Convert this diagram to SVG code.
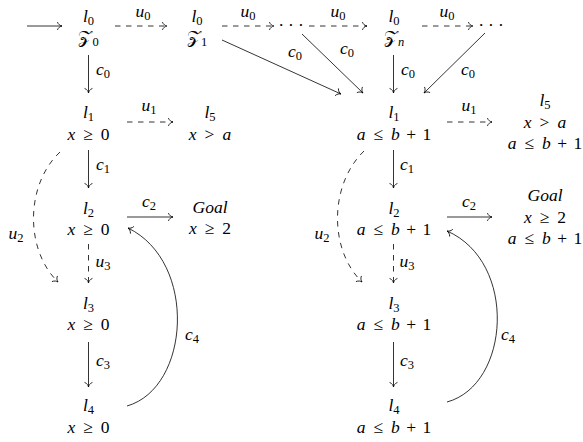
<svg xmlns="http://www.w3.org/2000/svg" width="583" height="442" viewBox="0 0 583 442">
<defs>
<style>
text{font-family:'Liberation Serif','Times New Roman',serif;font-size:17.5px;fill:#000;text-anchor:middle}
.i{font-style:italic}
.s{font-size:12.5px}
.e{fill:none;stroke:#000;stroke-width:0.8}
.d{stroke-dasharray:5.5 5.5}
</style>
<marker id="ah" viewBox="-6 -5 8 10" refX="0" refY="0" markerWidth="8" markerHeight="10" orient="auto" markerUnits="userSpaceOnUse">
<path d="M-4.5,-3.6 C-3.8,-1.5 -1.5,-0.3 0,0 C-1.5,0.3 -3.8,1.5 -4.5,3.6" fill="none" stroke="#000" stroke-width="0.8" stroke-linecap="round"/>
</marker>
</defs>
<rect width="583" height="442" fill="#fff"/>

<g id="connectors">
<path class="e" d="M27,26 H62" marker-end="url(#ah)"/>
<path class="e d" d="M115,26 H167" marker-end="url(#ah)"/>
<path class="e d" d="M222,26 H274" marker-end="url(#ah)"/>
<path class="e d" d="M309,26 H367" marker-end="url(#ah)"/>
<path class="e d" d="M422,26 H473" marker-end="url(#ah)"/>
<path class="e" d="M222,40 L341,94" marker-end="url(#ah)"/>
<path class="e" d="M302,34 L363,93" marker-end="url(#ah)"/>
<path class="e" d="M485,33 L424,93" marker-end="url(#ah)"/>
<path class="e" d="M88.5,55 V93" marker-end="url(#ah)"/>
<path class="e" d="M88.5,150 V188" marker-end="url(#ah)"/>
<path class="e d" d="M88.5,244 V283" marker-end="url(#ah)"/>
<path class="e" d="M88.5,342 V387" marker-end="url(#ah)"/>
<path class="e d" d="M127,122 H173" marker-end="url(#ah)"/>
<path class="e" d="M127,217 H173" marker-end="url(#ah)"/>
<path class="e d" d="M60,152 C25,185 25,250 58,282" marker-end="url(#ah)"/>
<path class="e" d="M127,406 C190,388 198,262 128,228" marker-end="url(#ah)"/>
<path class="e" d="M393.5,55 V93" marker-end="url(#ah)"/>
<path class="e" d="M393.5,150 V188" marker-end="url(#ah)"/>
<path class="e d" d="M393.5,244 V283" marker-end="url(#ah)"/>
<path class="e" d="M393.5,342 V387" marker-end="url(#ah)"/>
<path class="e d" d="M447,122 H492" marker-end="url(#ah)"/>
<path class="e" d="M447,217 H492" marker-end="url(#ah)"/>
<path class="e d" d="M364,151 C329,185 329,250 362,282" marker-end="url(#ah)"/>
<path class="e" d="M447,402 C510,385 518,262 447,231" marker-end="url(#ah)"/>
</g>

<g id="edge-labels">
<text x="143" y="17"><tspan class="i">u</tspan><tspan class="s" dy="3">0</tspan></text>
<text x="248" y="17"><tspan class="i">u</tspan><tspan class="s" dy="3">0</tspan></text>
<text x="338" y="17"><tspan class="i">u</tspan><tspan class="s" dy="3">0</tspan></text>
<text x="447" y="17"><tspan class="i">u</tspan><tspan class="s" dy="3">0</tspan></text>
<text x="295" y="57"><tspan class="i">c</tspan><tspan class="s" dy="3">0</tspan></text>
<text x="347" y="54"><tspan class="i">c</tspan><tspan class="s" dy="3">0</tspan></text>
<text x="468" y="75"><tspan class="i">c</tspan><tspan class="s" dy="3">0</tspan></text>
<text x="103" y="75"><tspan class="i">c</tspan><tspan class="s" dy="3">0</tspan></text>
<text x="103" y="170"><tspan class="i">c</tspan><tspan class="s" dy="3">1</tspan></text>
<text x="103" y="267"><tspan class="i">u</tspan><tspan class="s" dy="3">3</tspan></text>
<text x="103" y="366"><tspan class="i">c</tspan><tspan class="s" dy="3">3</tspan></text>
<text x="149" y="111"><tspan class="i">u</tspan><tspan class="s" dy="3">1</tspan></text>
<text x="149" y="207"><tspan class="i">c</tspan><tspan class="s" dy="3">2</tspan></text>
<text x="16" y="239"><tspan class="i">u</tspan><tspan class="s" dy="3">2</tspan></text>
<text x="192" y="340"><tspan class="i">c</tspan><tspan class="s" dy="3">4</tspan></text>
<text x="408" y="75"><tspan class="i">c</tspan><tspan class="s" dy="3">0</tspan></text>
<text x="407" y="170"><tspan class="i">c</tspan><tspan class="s" dy="3">1</tspan></text>
<text x="407" y="267"><tspan class="i">u</tspan><tspan class="s" dy="3">3</tspan></text>
<text x="407" y="366"><tspan class="i">c</tspan><tspan class="s" dy="3">3</tspan></text>
<text x="469" y="111"><tspan class="i">u</tspan><tspan class="s" dy="3">1</tspan></text>
<text x="469" y="207"><tspan class="i">c</tspan><tspan class="s" dy="3">2</tspan></text>
<text x="322" y="239"><tspan class="i">u</tspan><tspan class="s" dy="3">2</tspan></text>
<text x="508" y="340"><tspan class="i">c</tspan><tspan class="s" dy="3">4</tspan></text>
</g>

<g id="dots1"><text x="293" y="31" letter-spacing="4">···</text></g>
<g id="dots2"><text x="493" y="31" letter-spacing="4">···</text></g>

<g id="n-z0">
<text x="88.5" y="21.5"><tspan class="i">l</tspan><tspan class="s" dy="3">0</tspan></text>
<text x="88.5" y="43"><tspan>𝒵</tspan><tspan class="s" dy="3">0</tspan></text>
</g>
<g id="n-z1">
<text x="197" y="21.5"><tspan class="i">l</tspan><tspan class="s" dy="3">0</tspan></text>
<text x="197" y="43"><tspan>𝒵</tspan><tspan class="s" dy="3">1</tspan></text>
</g>
<g id="n-zn">
<text x="394" y="21.5"><tspan class="i">l</tspan><tspan class="s" dy="3">0</tspan></text>
<text x="394" y="43"><tspan>𝒵</tspan><tspan class="s i" dy="3">n</tspan></text>
</g>

<g id="n-l1">
<text x="88.5" y="118"><tspan class="i">l</tspan><tspan class="s" dy="3">1</tspan></text>
<text x="88.5" y="139.5"><tspan class="i">x</tspan><tspan dx="8">≥</tspan><tspan dx="8">0</tspan></text>
</g>
<g id="n-l5">
<text x="210" y="118"><tspan class="i">l</tspan><tspan class="s" dy="3">5</tspan></text>
<text x="210" y="139.5"><tspan class="i">x</tspan><tspan dx="8">&gt;</tspan><tspan class="i" dx="8">a</tspan></text>
</g>
<g id="n-l2">
<text x="88.5" y="213.5"><tspan class="i">l</tspan><tspan class="s" dy="3">2</tspan></text>
<text x="88.5" y="235"><tspan class="i">x</tspan><tspan dx="8">≥</tspan><tspan dx="8">0</tspan></text>
</g>
<g id="n-goal">
<text x="210" y="212.5" class="i">Goal</text>
<text x="210" y="234"><tspan class="i">x</tspan><tspan dx="8">≥</tspan><tspan dx="8">2</tspan></text>
</g>
<g id="n-l3">
<text x="88.5" y="308.5"><tspan class="i">l</tspan><tspan class="s" dy="3">3</tspan></text>
<text x="88.5" y="330"><tspan class="i">x</tspan><tspan dx="8">≥</tspan><tspan dx="8">0</tspan></text>
</g>
<g id="n-l4">
<text x="88.5" y="411"><tspan class="i">l</tspan><tspan class="s" dy="3">4</tspan></text>
<text x="88.5" y="432.5"><tspan class="i">x</tspan><tspan dx="8">≥</tspan><tspan dx="8">0</tspan></text>
</g>

<g id="n-r1">
<text x="394" y="118"><tspan class="i">l</tspan><tspan class="s" dy="3">1</tspan></text>
<text x="394" y="139.5"><tspan class="i">a</tspan><tspan dx="8">≤</tspan><tspan class="i" dx="8">b</tspan><tspan dx="6.5">+</tspan><tspan dx="6.5">1</tspan></text>
</g>
<g id="n-r5">
<text x="545" y="106"><tspan class="i">l</tspan><tspan class="s" dy="3">5</tspan></text>
<text x="545" y="127.5"><tspan class="i">x</tspan><tspan dx="8">&gt;</tspan><tspan class="i" dx="8">a</tspan></text>
<text x="545" y="149"><tspan class="i">a</tspan><tspan dx="8">≤</tspan><tspan class="i" dx="8">b</tspan><tspan dx="6.5">+</tspan><tspan dx="6.5">1</tspan></text>
</g>
<g id="n-r2">
<text x="394" y="213.5"><tspan class="i">l</tspan><tspan class="s" dy="3">2</tspan></text>
<text x="394" y="235"><tspan class="i">a</tspan><tspan dx="8">≤</tspan><tspan class="i" dx="8">b</tspan><tspan dx="6.5">+</tspan><tspan dx="6.5">1</tspan></text>
</g>
<g id="n-rgoal">
<text x="545" y="201" class="i">Goal</text>
<text x="545" y="222.5"><tspan class="i">x</tspan><tspan dx="8">≥</tspan><tspan dx="8">2</tspan></text>
<text x="545" y="244"><tspan class="i">a</tspan><tspan dx="8">≤</tspan><tspan class="i" dx="8">b</tspan><tspan dx="6.5">+</tspan><tspan dx="6.5">1</tspan></text>
</g>
<g id="n-r3">
<text x="394" y="308.5"><tspan class="i">l</tspan><tspan class="s" dy="3">3</tspan></text>
<text x="394" y="330"><tspan class="i">a</tspan><tspan dx="8">≤</tspan><tspan class="i" dx="8">b</tspan><tspan dx="6.5">+</tspan><tspan dx="6.5">1</tspan></text>
</g>
<g id="n-r4">
<text x="394" y="411"><tspan class="i">l</tspan><tspan class="s" dy="3">4</tspan></text>
<text x="394" y="432.5"><tspan class="i">a</tspan><tspan dx="8">≤</tspan><tspan class="i" dx="8">b</tspan><tspan dx="6.5">+</tspan><tspan dx="6.5">1</tspan></text>
</g>
</svg>
